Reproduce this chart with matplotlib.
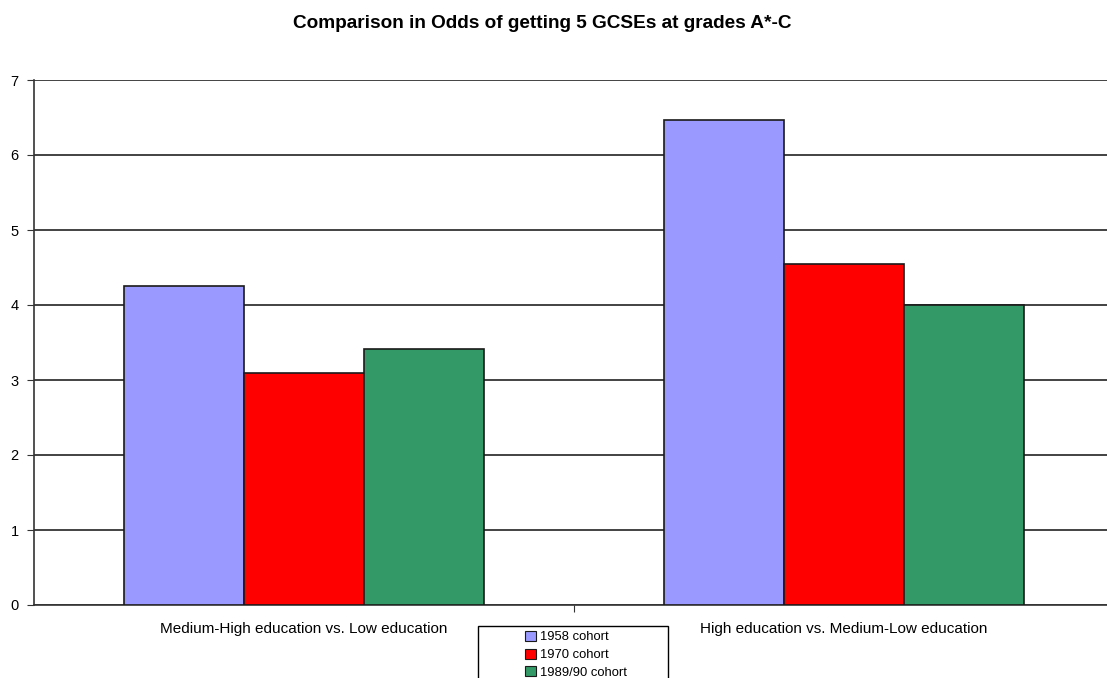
import matplotlib
matplotlib.use('Agg')
from matplotlib import pyplot as plt
from matplotlib.patches import Patch, Rectangle
import numpy as np

plt.rcParams['font.family'] = ['Liberation Sans', 'DejaVu Sans']

categories = ['Medium-High education vs. Low education', 'High education vs. Medium-Low education']
series_names = ['1958 cohort', '1970 cohort', '1989/90 cohort']
odds_1958 = [4.25, 6.47]
odds_1970 = [3.1, 4.55]
odds_1989 = [3.41, 4.0]
colors = ['#9999ff', '#ff0000', '#339966']

W, H = 1107, 678
fig = plt.figure(figsize=(W / 100, H / 100), dpi=100)
# axes in pixels: left 34, top 80, bottom 605, category width 540 px
ax = fig.add_axes([34 / W, (H - 605) / H, 1080 / W, 525 / H])

x = np.arange(len(categories))
bw = 120 / 540
all_vals = [odds_1958, odds_1970, odds_1989]
for i, vals in enumerate(all_vals):
    ax.bar(x + (i - 1) * bw, vals, width=bw, color=colors[i], edgecolor='#1a1a1a',
           linewidth=1.2, zorder=3)

ax.set_xlim(-0.5, 1.5)
ax.set_ylim(0, 7)
ax.set_yticks(range(0, 8))
ax.yaxis.grid(True, color='#222222', linewidth=1.2, zorder=0)
ax.set_axisbelow(True)

for s in ['top', 'right']:
    ax.spines[s].set_visible(False)
ax.spines['left'].set_color('#333333')
ax.spines['bottom'].set_color('#333333')
ax.spines['left'].set_linewidth(1.2)
ax.spines['bottom'].set_linewidth(1.2)

ax.set_xticks([0.5])
ax.set_xticklabels([''])
ax.tick_params(axis='x', direction='out', length=5, color='#333333')
ax.tick_params(axis='y', direction='out', length=5, color='#333333', labelsize=10.5, pad=6)

for xi, lab in zip(x, categories):
    ax.text(xi, -0.23, lab, ha='center', va='top', fontsize=11,
            transform=ax.transData, clip_on=False)

fig.text(542 / W, 1 - 23 / H, 'Comparison in Odds of getting 5 GCSEs at grades A*-C',
         ha='center', va='center', fontsize=13.7, fontweight='bold')

# legend frame drawn by hand (wider than its content, cut off at the bottom)
fig.patches.append(Rectangle((478 / W, -0.05), 190 / W, 1.05 - 626 / H,
                             transform=fig.transFigure, facecolor='white',
                             edgecolor='black', linewidth=1.0, zorder=1))
handles = [Patch(facecolor=c, edgecolor='#1a1a1a', linewidth=0.8) for c in colors]
leg = fig.legend(handles, series_names, loc='upper center',
                 bbox_to_anchor=(576 / W, 1 - 627 / H), fontsize=9.4,
                 frameon=False, borderaxespad=0,
                 handlelength=0.8, handleheight=0.8, handletextpad=0.3,
                 labelspacing=0.4, borderpad=0.3)

fig.savefig('out.png', dpi=100)
